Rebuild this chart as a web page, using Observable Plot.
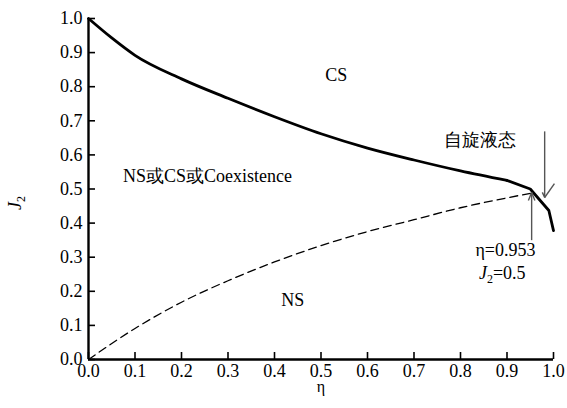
<!DOCTYPE html>
<html><head><meta charset="utf-8">
<script src="https://cdn.jsdelivr.net/npm/d3@7"></script>
<script src="https://cdn.jsdelivr.net/npm/@observablehq/plot@0.6"></script>
<style>body{margin:0;background:#fff}</style>
</head><body><div id="chart"></div>
<script>
// Solid boundary curve: smooth part then kinked end
const solidEta = [0, 0.05, 0.1, 0.2, 0.3, 0.4, 0.5, 0.6, 0.7, 0.8, 0.9];
const solidJ   = [1.0, 0.943, 0.892, 0.823, 0.766, 0.712, 0.662, 0.62, 0.585, 0.553, 0.525];
const endEta = [0.9, 0.95, 0.99, 1.0];
const endJ   = [0.525, 0.5, 0.437, 0.378];
// Dashed curve
const dashEta = [0, 0.1, 0.2, 0.3, 0.4, 0.5, 0.6, 0.7, 0.8, 0.9, 0.953];
const dashJ   = [0, 0.091, 0.168, 0.231, 0.286, 0.334, 0.375, 0.41, 0.445, 0.474, 0.488];
// Ticks
const xTicks = [0, 0.1, 0.2, 0.3, 0.4, 0.5, 0.6, 0.7, 0.8, 0.9, 1.0];
const yTicks = [0, 0.1, 0.2, 0.3, 0.4, 0.5, 0.6, 0.7, 0.8, 0.9, 1.0];
// Region labels
const labelText = ["CS", "NS或CS或Coexistence", "NS", "自旋液态"];
const labelEta  = [0.533, 0.256, 0.439, 0.841];
const labelJ    = [0.833, 0.537, 0.173, 0.642];
// Annotation arrows (segments)
const arrowX1 = [0.953, 0.953, 0.953, 0.981, 0.981, 0.981];
const arrowY1 = [0.35, 0.49, 0.49, 0.669, 0.475, 0.475];
const arrowX2 = [0.953, 0.946, 0.960, 0.981, 0.976, 1.002];
const arrowY2 = [0.49, 0.466, 0.466, 0.475, 0.49, 0.516];
// Annotation text
const annEtaLabel = "η";
const annEtaValue = "=0.953";
const annJValue = "=0.5";
const annEta = 0.832;
const annJ1 = 0.32;
const annJ2 = 0.252;

const solid = solidEta.map((x, i) => ({x, y: solidJ[i]}));
const solidEnd = endEta.map((x, i) => ({x, y: endJ[i]}));
const dashed = dashEta.map((x, i) => ({x, y: dashJ[i]}));
const labels = labelText.map((t, i) => ({t, x: labelEta[i], y: labelJ[i]}));
const arrows = arrowX1.map((x1, i) => ({x1, y1: arrowY1[i], x2: arrowX2[i], y2: arrowY2[i]}));

const serif = "Liberation Serif, serif";
const plot = Plot.plot({
  width: 567, height: 408,
  marginLeft: 88, marginRight: 14, marginTop: 18, marginBottom: 49,
  style: {fontFamily: serif, fontSize: "18px", background: "#fff", color: "#000"},
  x: {domain: [0, 1]},
  y: {domain: [0, 1]},
  marks: [
    Plot.axisX({ticks: xTicks, tickSize: 0, tickPadding: 5, tickFormat: d => d.toFixed(1), label: null}),
    Plot.axisY({ticks: yTicks, tickSize: 0, tickPadding: 6, tickFormat: d => d.toFixed(1), label: null}),
    Plot.axisX({ticks: xTicks, tickSize: 7, dy: -7, strokeWidth: 1.6, tickFormat: () => "", label: null}),
    Plot.axisY({ticks: yTicks, tickSize: 7, dx: 7, strokeWidth: 1.6, tickFormat: () => "", label: null}),
    Plot.ruleX([0], {strokeWidth: 2.4}),
    Plot.ruleY([0], {strokeWidth: 2.4}),
    Plot.line(dashed, {x: "x", y: "y", stroke: "#000", strokeWidth: 1.3, strokeDasharray: "8,5", curve: "monotone-x"}),
    Plot.line(solid, {x: "x", y: "y", stroke: "#000", strokeWidth: 2.8, curve: "monotone-x"}),
    Plot.line(solidEnd, {x: "x", y: "y", stroke: "#000", strokeWidth: 2.8, curve: "linear"}),
    Plot.link(arrows, {x1: "x1", y1: "y1", x2: "x2", y2: "y2", stroke: "#555", strokeWidth: 1.4}),
    Plot.text(labels, {x: "x", y: "y", text: "t", fontSize: 18, fill: "#000"}),
    Plot.text([annEtaLabel + annEtaValue], {x: annEta, y: annJ1, textAnchor: "start", fontSize: 18, fill: "#000"}),
    Plot.text([annEtaLabel], {frameAnchor: "bottom", lineAnchor: "top", dy: 21, fontSize: 16, fill: "#000"})
  ]
});
document.getElementById("chart").appendChild(plot);

// subscripted labels (J₂)
const svg = d3.select(plot);
const sx = plot.scale("x"), sy = plot.scale("y");
const jl = svg.append("text")
  .attr("transform", "translate(21,203) rotate(-90)")
  .attr("text-anchor", "middle")
  .style("font-family", serif).style("font-size", "18px").attr("fill", "#000");
jl.append("tspan").attr("font-style", "italic").text("J");
jl.append("tspan").style("font-size", "12px").attr("dy", 4).text("2");

const ja = svg.append("text")
  .attr("x", sx.apply(annEta) + 4).attr("y", sy.apply(annJ2))
  .attr("dy", "0.32em").attr("text-anchor", "start")
  .style("font-family", serif).style("font-size", "18px").attr("fill", "#000");
ja.append("tspan").attr("font-style", "italic").text("J");
ja.append("tspan").style("font-size", "12px").attr("dy", 4).text("2");
ja.append("tspan").attr("dy", -4).text(annJValue);
</script>
</body></html>
